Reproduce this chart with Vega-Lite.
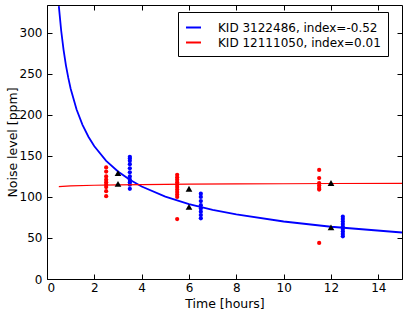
{
  "$schema": "https://vega.github.io/schema/vega-lite/v6.json",
  "width": 355,
  "height": 274,
  "autosize": {"type": "none"},
  "padding": {"left": 47, "top": 5, "right": 5, "bottom": 37},
  "background": "white",
  "config": {
    "view": {"stroke": "black", "strokeWidth": 1},
    "font": "DejaVu Sans",
    "axis": {
      "grid": false,
      "domain": false,
      "tickColor": "black",
      "labelColor": "black",
      "titleColor": "black",
      "labelFont": "DejaVu Sans",
      "titleFont": "DejaVu Sans",
      "labelFontSize": 12,
      "titleFontSize": 12.5,
      "titleFontWeight": "normal",
      "tickSize": 5,
      "offset": -5,
      "tickWidth": 1,
      "labelPadding": 5
    }
  },
  "data": {
    "values": [
      {"kind": "fit", "series": "KID 3122486, index=-0.52", "t": 0.5, "v": 332.7},
      {"kind": "fit", "series": "KID 3122486, index=-0.52", "t": 0.6, "v": 302.6},
      {"kind": "fit", "series": "KID 3122486, index=-0.52", "t": 0.7, "v": 279.3},
      {"kind": "fit", "series": "KID 3122486, index=-0.52", "t": 0.8, "v": 260.5},
      {"kind": "fit", "series": "KID 3122486, index=-0.52", "t": 0.9, "v": 245.1},
      {"kind": "fit", "series": "KID 3122486, index=-0.52", "t": 1.0, "v": 232.0},
      {"kind": "fit", "series": "KID 3122486, index=-0.52", "t": 1.25, "v": 206.6},
      {"kind": "fit", "series": "KID 3122486, index=-0.52", "t": 1.5, "v": 187.9},
      {"kind": "fit", "series": "KID 3122486, index=-0.52", "t": 1.75, "v": 173.4},
      {"kind": "fit", "series": "KID 3122486, index=-0.52", "t": 2.0, "v": 161.8},
      {"kind": "fit", "series": "KID 3122486, index=-0.52", "t": 2.5, "v": 144.0},
      {"kind": "fit", "series": "KID 3122486, index=-0.52", "t": 3.0, "v": 131.0},
      {"kind": "fit", "series": "KID 3122486, index=-0.52", "t": 3.5, "v": 120.9},
      {"kind": "fit", "series": "KID 3122486, index=-0.52", "t": 4.0, "v": 112.8},
      {"kind": "fit", "series": "KID 3122486, index=-0.52", "t": 5.0, "v": 100.5},
      {"kind": "fit", "series": "KID 3122486, index=-0.52", "t": 6.0, "v": 91.4},
      {"kind": "fit", "series": "KID 3122486, index=-0.52", "t": 7.0, "v": 84.3},
      {"kind": "fit", "series": "KID 3122486, index=-0.52", "t": 8.0, "v": 78.7},
      {"kind": "fit", "series": "KID 3122486, index=-0.52", "t": 10.0, "v": 70.1},
      {"kind": "fit", "series": "KID 3122486, index=-0.52", "t": 12.0, "v": 63.7},
      {"kind": "fit", "series": "KID 3122486, index=-0.52", "t": 15.0, "v": 56.7},
      {"kind": "fit", "series": "KID 12111050, index=0.01", "t": 0.5, "v": 112.7},
      {"kind": "fit", "series": "KID 12111050, index=0.01", "t": 1.0, "v": 113.5},
      {"kind": "fit", "series": "KID 12111050, index=0.01", "t": 2.0, "v": 114.3},
      {"kind": "fit", "series": "KID 12111050, index=0.01", "t": 3.0, "v": 114.75},
      {"kind": "fit", "series": "KID 12111050, index=0.01", "t": 4.0, "v": 115.1},
      {"kind": "fit", "series": "KID 12111050, index=0.01", "t": 6.0, "v": 115.55},
      {"kind": "fit", "series": "KID 12111050, index=0.01", "t": 8.0, "v": 115.9},
      {"kind": "fit", "series": "KID 12111050, index=0.01", "t": 10.0, "v": 116.1},
      {"kind": "fit", "series": "KID 12111050, index=0.01", "t": 12.0, "v": 116.4},
      {"kind": "fit", "series": "KID 12111050, index=0.01", "t": 15.0, "v": 116.6},
      {"kind": "obs", "series": "KID 12111050, index=0.01", "t": 2.5, "v": 101},
      {"kind": "obs", "series": "KID 12111050, index=0.01", "t": 2.5, "v": 107},
      {"kind": "obs", "series": "KID 12111050, index=0.01", "t": 2.5, "v": 112},
      {"kind": "obs", "series": "KID 12111050, index=0.01", "t": 2.5, "v": 115},
      {"kind": "obs", "series": "KID 12111050, index=0.01", "t": 2.5, "v": 118},
      {"kind": "obs", "series": "KID 12111050, index=0.01", "t": 2.5, "v": 121},
      {"kind": "obs", "series": "KID 12111050, index=0.01", "t": 2.5, "v": 125},
      {"kind": "obs", "series": "KID 12111050, index=0.01", "t": 2.5, "v": 131},
      {"kind": "obs", "series": "KID 12111050, index=0.01", "t": 2.5, "v": 136},
      {"kind": "obs", "series": "KID 3122486, index=-0.52", "t": 3.5, "v": 110},
      {"kind": "obs", "series": "KID 3122486, index=-0.52", "t": 3.5, "v": 115},
      {"kind": "obs", "series": "KID 3122486, index=-0.52", "t": 3.5, "v": 118},
      {"kind": "obs", "series": "KID 3122486, index=-0.52", "t": 3.5, "v": 121},
      {"kind": "obs", "series": "KID 3122486, index=-0.52", "t": 3.5, "v": 125},
      {"kind": "obs", "series": "KID 3122486, index=-0.52", "t": 3.5, "v": 130},
      {"kind": "obs", "series": "KID 3122486, index=-0.52", "t": 3.5, "v": 135},
      {"kind": "obs", "series": "KID 3122486, index=-0.52", "t": 3.5, "v": 140},
      {"kind": "obs", "series": "KID 3122486, index=-0.52", "t": 3.5, "v": 144},
      {"kind": "obs", "series": "KID 3122486, index=-0.52", "t": 3.5, "v": 147},
      {"kind": "obs", "series": "KID 3122486, index=-0.52", "t": 3.5, "v": 149},
      {"kind": "obs", "series": "KID 12111050, index=0.01", "t": 5.5, "v": 100},
      {"kind": "obs", "series": "KID 12111050, index=0.01", "t": 5.5, "v": 103},
      {"kind": "obs", "series": "KID 12111050, index=0.01", "t": 5.5, "v": 106},
      {"kind": "obs", "series": "KID 12111050, index=0.01", "t": 5.5, "v": 109},
      {"kind": "obs", "series": "KID 12111050, index=0.01", "t": 5.5, "v": 112},
      {"kind": "obs", "series": "KID 12111050, index=0.01", "t": 5.5, "v": 115},
      {"kind": "obs", "series": "KID 12111050, index=0.01", "t": 5.5, "v": 118},
      {"kind": "obs", "series": "KID 12111050, index=0.01", "t": 5.5, "v": 121},
      {"kind": "obs", "series": "KID 12111050, index=0.01", "t": 5.5, "v": 124},
      {"kind": "obs", "series": "KID 12111050, index=0.01", "t": 5.5, "v": 127},
      {"kind": "obs", "series": "KID 12111050, index=0.01", "t": 5.5, "v": 73},
      {"kind": "obs", "series": "KID 3122486, index=-0.52", "t": 6.5, "v": 74},
      {"kind": "obs", "series": "KID 3122486, index=-0.52", "t": 6.5, "v": 78},
      {"kind": "obs", "series": "KID 3122486, index=-0.52", "t": 6.5, "v": 82},
      {"kind": "obs", "series": "KID 3122486, index=-0.52", "t": 6.5, "v": 86},
      {"kind": "obs", "series": "KID 3122486, index=-0.52", "t": 6.5, "v": 90},
      {"kind": "obs", "series": "KID 3122486, index=-0.52", "t": 6.5, "v": 95},
      {"kind": "obs", "series": "KID 3122486, index=-0.52", "t": 6.5, "v": 100},
      {"kind": "obs", "series": "KID 3122486, index=-0.52", "t": 6.5, "v": 104},
      {"kind": "obs", "series": "KID 12111050, index=0.01", "t": 11.5, "v": 133},
      {"kind": "obs", "series": "KID 12111050, index=0.01", "t": 11.5, "v": 123},
      {"kind": "obs", "series": "KID 12111050, index=0.01", "t": 11.5, "v": 117},
      {"kind": "obs", "series": "KID 12111050, index=0.01", "t": 11.5, "v": 114},
      {"kind": "obs", "series": "KID 12111050, index=0.01", "t": 11.5, "v": 111},
      {"kind": "obs", "series": "KID 12111050, index=0.01", "t": 11.5, "v": 109},
      {"kind": "obs", "series": "KID 12111050, index=0.01", "t": 11.5, "v": 44},
      {"kind": "obs", "series": "KID 3122486, index=-0.52", "t": 12.5, "v": 52},
      {"kind": "obs", "series": "KID 3122486, index=-0.52", "t": 12.5, "v": 55},
      {"kind": "obs", "series": "KID 3122486, index=-0.52", "t": 12.5, "v": 58},
      {"kind": "obs", "series": "KID 3122486, index=-0.52", "t": 12.5, "v": 61},
      {"kind": "obs", "series": "KID 3122486, index=-0.52", "t": 12.5, "v": 64},
      {"kind": "obs", "series": "KID 3122486, index=-0.52", "t": 12.5, "v": 67},
      {"kind": "obs", "series": "KID 3122486, index=-0.52", "t": 12.5, "v": 70},
      {"kind": "obs", "series": "KID 3122486, index=-0.52", "t": 12.5, "v": 73},
      {"kind": "obs", "series": "KID 3122486, index=-0.52", "t": 12.5, "v": 76},
      {"kind": "mean", "series": "mean", "t": 3, "v": 129},
      {"kind": "mean", "series": "mean", "t": 3, "v": 116},
      {"kind": "mean", "series": "mean", "t": 6, "v": 110},
      {"kind": "mean", "series": "mean", "t": 6, "v": 88},
      {"kind": "mean", "series": "mean", "t": 12, "v": 117},
      {"kind": "mean", "series": "mean", "t": 12, "v": 63}
    ]
  },
  "layer": [
    {
      "transform": [{"filter": "datum.kind == 'obs' && datum.series == 'KID 3122486, index=-0.52'"}],
      "mark": {"type": "circle", "size": 18, "opacity": 1, "color": "#0000ff"},
      "encoding": {
        "x": {"field": "t", "type": "quantitative", "scale": {"domain": [0, 15], "nice": false, "zero": false}, "axis": {"orient": "bottom", "title": "Time [hours]", "values": [0, 2, 4, 6, 8, 10, 12, 14], "labelPadding": 3, "titlePadding": 4}},
        "y": {"field": "v", "type": "quantitative", "scale": {"domain": [0, 334], "nice": false}, "axis": {"orient": "left", "title": "Noise level [ppm]", "values": [0, 50, 100, 150, 200, 250, 300], "titlePadding": 0}}
      }
    },
    {
      "transform": [{"filter": "datum.kind == 'obs' && datum.series == 'KID 12111050, index=0.01'"}],
      "mark": {"type": "circle", "size": 18, "opacity": 1, "color": "#ff0000"},
      "encoding": {
        "x": {"field": "t", "type": "quantitative", "axis": null},
        "y": {"field": "v", "type": "quantitative", "axis": null}
      }
    },
    {
      "transform": [{"filter": "datum.kind == 'fit' && datum.series == 'KID 3122486, index=-0.52'"}],
      "mark": {"type": "line", "strokeWidth": 1.8, "clip": true},
      "encoding": {
        "x": {"field": "t", "type": "quantitative", "axis": {"orient": "top", "labels": false, "title": null, "values": [0, 2, 4, 6, 8, 10, 12, 14]}},
        "y": {"field": "v", "type": "quantitative", "axis": null},
        "color": {"field": "series", "type": "nominal", "scale": {"domain": ["KID 3122486, index=-0.52", "KID 12111050, index=0.01"], "range": ["#0000ff", "#ff0000"]}, "legend": {"title": null, "orient": "none", "legendX": 131, "legendY": 7, "symbolType": "stroke", "symbolStrokeWidth": 2, "symbolSize": 225, "labelFontSize": 12, "labelFont": "DejaVu Sans", "labelColor": "black", "fillColor": "white", "strokeColor": "black", "padding": 7, "rowPadding": 0, "labelOffset": 16, "labelLimit": 300}}
      }
    },
    {
      "transform": [{"filter": "datum.kind == 'fit' && datum.series == 'KID 12111050, index=0.01'"}],
      "mark": {"type": "line", "strokeWidth": 1.2, "clip": true},
      "encoding": {
        "x": {"field": "t", "type": "quantitative", "axis": null},
        "y": {"field": "v", "type": "quantitative", "axis": {"orient": "right", "labels": false, "title": null, "values": [0, 50, 100, 150, 200, 250, 300]}},
        "color": {"field": "series", "type": "nominal"}
      }
    },
    {
      "transform": [{"filter": "datum.kind == 'mean'"}],
      "mark": {"type": "point", "shape": "triangle-up", "filled": true, "color": "black", "size": 45, "opacity": 1},
      "encoding": {
        "x": {"field": "t", "type": "quantitative", "axis": null},
        "y": {"field": "v", "type": "quantitative", "axis": null}
      }
    }
  ],
  "resolve": {"axis": {"x": "independent", "y": "independent"}}
}
